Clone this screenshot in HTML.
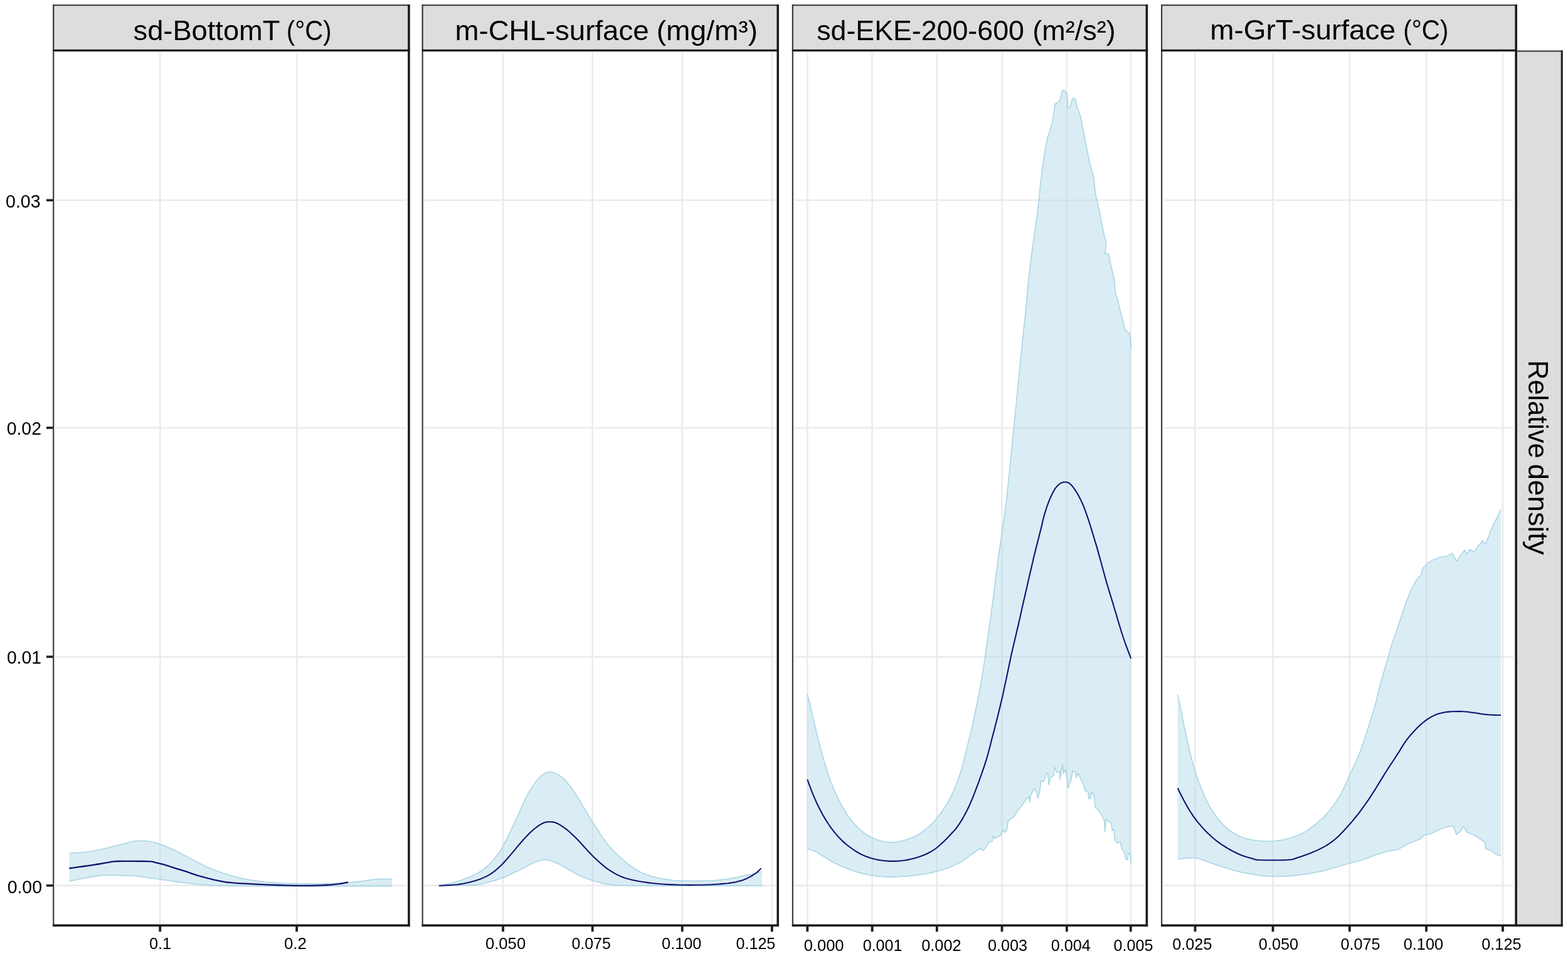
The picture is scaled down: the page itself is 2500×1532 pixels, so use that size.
<!DOCTYPE html>
<html lang="en"><head><meta charset="utf-8"><title>Relative density</title>
<style>html,body{margin:0;padding:0;background:#fff}body{width:2500px;height:1532px;overflow:hidden}svg{display:block}text{font-family:"Liberation Sans",sans-serif;fill:#000}</style>
</head><body>
<svg width="2500" height="1532" viewBox="0 0 2500 1532">
<rect width="2500" height="1532" fill="#fff"/>
<g>
<rect x="84.2" y="7.3" width="569.5" height="72.5" fill="#dddddd"/>
<rect x="253.9" y="84.4" width="2.6" height="1387.9" fill="#ebebeb"/>
<rect x="471.8" y="84.4" width="2.6" height="1387.9" fill="#ebebeb"/>
<rect x="88.2" y="317.9" width="559.5" height="2.6" fill="#ebebeb"/>
<rect x="88.2" y="680.7" width="559.5" height="2.6" fill="#ebebeb"/>
<rect x="88.2" y="1045.7" width="559.5" height="2.6" fill="#ebebeb"/>
<rect x="88.2" y="1410.4" width="559.5" height="2.6" fill="#ebebeb"/>
<polygon points="110.4,1360.3 115.3,1360.0 122.3,1359.6 130.1,1359.0 137.2,1358.3 143.2,1357.5 148.8,1356.6 154.4,1355.5 160.4,1354.2 167.0,1352.7 174.0,1351.0 180.8,1349.2 187.1,1347.6 192.7,1346.2 198.0,1344.9 202.7,1343.7 206.6,1342.7 209.2,1342.0 210.8,1341.4 212.4,1341.1 215.2,1340.8 219.9,1340.6 225.6,1340.5 231.7,1340.6 237.1,1341.0 241.8,1341.8 246.1,1342.9 250.1,1344.2 254.1,1345.5 257.8,1346.8 261.3,1348.1 264.8,1349.5 268.7,1351.1 273.0,1353.1 277.6,1355.2 282.3,1357.5 287.0,1359.8 291.4,1362.1 295.8,1364.5 300.3,1366.9 305.2,1369.5 310.6,1372.4 316.3,1375.5 322.3,1378.5 328.4,1381.4 334.9,1384.2 341.6,1386.8 348.2,1389.3 354.0,1391.4 358.6,1393.0 362.5,1394.2 366.1,1395.2 370.0,1396.3 374.4,1397.5 378.9,1398.7 383.5,1399.9 388.3,1400.9 393.4,1401.9 398.8,1402.8 404.1,1403.6 409.0,1404.3 413.2,1404.9 417.1,1405.4 420.8,1405.9 424.8,1406.3 429.3,1406.6 434.1,1406.9 438.8,1407.1 443.0,1407.4 445.6,1407.7 447.2,1407.9 449.7,1408.2 455.2,1408.4 465.2,1408.6 478.2,1408.8 492.0,1408.9 504.0,1409.0 513.9,1408.9 523.0,1408.8 531.0,1408.6 538.0,1408.3 543.4,1408.0 547.4,1407.6 551.0,1407.2 555.0,1406.8 559.8,1406.4 564.9,1406.0 569.9,1405.6 574.6,1405.1 578.9,1404.6 583.0,1404.0 586.9,1403.4 590.4,1402.9 593.2,1402.4 595.3,1402.0 597.8,1401.7 601.3,1401.4 606.9,1401.3 613.9,1401.3 620.5,1401.3 625.1,1401.3 625.1,1412.6 616.9,1412.6 605.0,1412.6 592.0,1412.6 580.0,1412.6 569.5,1412.6 559.4,1412.6 549.6,1412.6 540.0,1412.7 531.0,1412.7 522.6,1412.8 513.8,1412.9 504.0,1412.9 493.5,1412.9 482.6,1412.8 470.1,1412.8 455.0,1412.7 434.9,1412.6 411.2,1412.6 388.1,1412.5 370.0,1412.4 358.8,1412.3 352.0,1412.2 347.2,1412.0 341.8,1411.8 335.5,1411.5 329.4,1411.1 323.8,1410.6 318.6,1410.2 314.4,1409.8 311.0,1409.4 307.4,1409.0 302.8,1408.4 296.6,1407.6 289.3,1406.6 281.8,1405.6 274.8,1404.7 268.3,1403.8 262.0,1402.8 256.1,1402.0 250.5,1401.2 245.4,1400.4 240.7,1399.7 236.4,1399.1 232.2,1398.5 228.3,1397.9 224.7,1397.4 221.2,1396.9 217.6,1396.5 214.1,1396.3 210.6,1396.1 206.7,1396.0 201.8,1395.9 195.1,1395.7 187.2,1395.4 179.2,1395.2 172.5,1395.1 167.8,1395.2 164.3,1395.4 160.9,1395.7 156.7,1396.3 151.2,1397.1 144.9,1398.1 138.5,1399.3 132.4,1400.4 126.2,1401.5 119.9,1402.8 114.3,1403.9 110.4,1404.7" fill="#add8e6" fill-opacity="0.45" stroke="none"/>
<polyline points="110.4,1360.3 115.3,1360.0 122.3,1359.6 130.1,1359.0 137.2,1358.3 143.2,1357.5 148.8,1356.6 154.4,1355.5 160.4,1354.2 167.0,1352.7 174.0,1351.0 180.8,1349.2 187.1,1347.6 192.7,1346.2 198.0,1344.9 202.7,1343.7 206.6,1342.7 209.2,1342.0 210.8,1341.4 212.4,1341.1 215.2,1340.8 219.9,1340.6 225.6,1340.5 231.7,1340.6 237.1,1341.0 241.8,1341.8 246.1,1342.9 250.1,1344.2 254.1,1345.5 257.8,1346.8 261.3,1348.1 264.8,1349.5 268.7,1351.1 273.0,1353.1 277.6,1355.2 282.3,1357.5 287.0,1359.8 291.4,1362.1 295.8,1364.5 300.3,1366.9 305.2,1369.5 310.6,1372.4 316.3,1375.5 322.3,1378.5 328.4,1381.4 334.9,1384.2 341.6,1386.8 348.2,1389.3 354.0,1391.4 358.6,1393.0 362.5,1394.2 366.1,1395.2 370.0,1396.3 374.4,1397.5 378.9,1398.7 383.5,1399.9 388.3,1400.9 393.4,1401.9 398.8,1402.8 404.1,1403.6 409.0,1404.3 413.2,1404.9 417.1,1405.4 420.8,1405.9 424.8,1406.3 429.3,1406.6 434.1,1406.9 438.8,1407.1 443.0,1407.4 445.6,1407.7 447.2,1407.9 449.7,1408.2 455.2,1408.4 465.2,1408.6 478.2,1408.8 492.0,1408.9 504.0,1409.0 513.9,1408.9 523.0,1408.8 531.0,1408.6 538.0,1408.3 543.4,1408.0 547.4,1407.6 551.0,1407.2 555.0,1406.8 559.8,1406.4 564.9,1406.0 569.9,1405.6 574.6,1405.1 578.9,1404.6 583.0,1404.0 586.9,1403.4 590.4,1402.9 593.2,1402.4 595.3,1402.0 597.8,1401.7 601.3,1401.4 606.9,1401.3 613.9,1401.3 620.5,1401.3 625.1,1401.3" fill="none" stroke="#a9d5e5" stroke-width="1.6" stroke-linejoin="round"/>
<polyline points="110.4,1404.7 114.3,1403.9 119.9,1402.8 126.2,1401.5 132.4,1400.4 138.5,1399.3 144.9,1398.1 151.2,1397.1 156.7,1396.3 160.9,1395.7 164.3,1395.4 167.8,1395.2 172.5,1395.1 179.2,1395.2 187.2,1395.4 195.1,1395.7 201.8,1395.9 206.7,1396.0 210.6,1396.1 214.1,1396.3 217.6,1396.5 221.2,1396.9 224.7,1397.4 228.3,1397.9 232.2,1398.5 236.4,1399.1 240.7,1399.7 245.4,1400.4 250.5,1401.2 256.1,1402.0 262.0,1402.8 268.3,1403.8 274.8,1404.7 281.8,1405.6 289.3,1406.6 296.6,1407.6 302.8,1408.4 307.4,1409.0 311.0,1409.4 314.4,1409.8 318.6,1410.2 323.8,1410.6 329.4,1411.1 335.5,1411.5 341.8,1411.8 347.2,1412.0 352.0,1412.2 358.8,1412.3 370.0,1412.4 388.1,1412.5 411.2,1412.6 434.9,1412.6 455.0,1412.7 470.1,1412.8 482.6,1412.8 493.5,1412.9 504.0,1412.9 513.8,1412.9 522.6,1412.8 531.0,1412.7 540.0,1412.7 549.6,1412.6 559.4,1412.6 569.5,1412.6 580.0,1412.6 592.0,1412.6 605.0,1412.6 616.9,1412.6 625.1,1412.6" fill="none" stroke="#a9d5e5" stroke-width="1.6" stroke-linejoin="round"/>
<polyline points="110.4,1384.3 112.1,1384.0 114.5,1383.7 117.3,1383.3 120.2,1382.8 123.3,1382.4 126.7,1381.9 130.2,1381.5 133.6,1381.0 136.9,1380.5 140.3,1380.1 143.7,1379.6 147.0,1379.1 150.4,1378.6 153.8,1378.0 157.1,1377.5 160.4,1377.0 163.5,1376.4 166.4,1375.9 169.3,1375.4 172.5,1374.9 175.1,1374.4 177.4,1373.8 180.9,1373.3 187.1,1373.0 198.0,1372.9 212.3,1372.9 226.5,1373.0 237.1,1373.2 242.6,1373.6 245.1,1374.1 246.3,1374.6 248.0,1375.1 250.6,1375.7 253.1,1376.2 255.5,1376.8 257.8,1377.3 260.0,1377.9 262.0,1378.5 264.0,1379.1 266.3,1379.8 268.8,1380.6 271.5,1381.5 274.3,1382.4 277.2,1383.4 280.2,1384.3 283.4,1385.3 286.5,1386.2 289.4,1387.1 292.0,1387.9 294.5,1388.7 296.8,1389.4 299.2,1390.2 301.6,1391.1 303.9,1391.9 306.3,1392.8 308.9,1393.7 311.8,1394.6 314.8,1395.6 318.0,1396.5 321.1,1397.4 324.2,1398.2 327.2,1399.0 330.3,1399.8 333.3,1400.5 336.4,1401.3 339.5,1402.1 342.5,1402.8 345.4,1403.4 348.0,1404.0 350.4,1404.5 352.7,1404.9 355.2,1405.4 357.5,1405.8 359.6,1406.2 362.2,1406.5 366.0,1406.9 371.2,1407.4 377.3,1407.8 384.3,1408.3 392.0,1408.7 400.4,1409.2 409.5,1409.7 419.4,1410.2 430.0,1410.6 441.9,1411.0 454.9,1411.4 467.9,1411.8 480.0,1411.9 491.2,1411.9 501.9,1411.7 511.6,1411.4 520.0,1411.0 526.5,1410.6 531.6,1410.2 535.8,1409.7 540.0,1409.2 544.5,1408.5 548.8,1407.7 552.4,1407.0 555.0,1406.5" fill="none" stroke="#10106e" stroke-width="2.3" stroke-linejoin="round"/>
<rect x="84.2" y="7.3" width="569.5" height="2" fill="#333333"/>
<rect x="84.2" y="7.3" width="2.1" height="1469.8" fill="#333333"/>
<rect x="650.1" y="7.3" width="3.6" height="1469.8" fill="#1c1c1c"/>
<rect x="84.2" y="78.8" width="569.5" height="3.3" fill="#1c1c1c"/>
<rect x="84.2" y="1473.5" width="569.5" height="3.6" fill="#1c1c1c"/>
<rect x="253.3" y="1476.6" width="3.8" height="8.6" fill="#1c1c1c"/>
<rect x="471.2" y="1476.6" width="3.8" height="8.6" fill="#1c1c1c"/>
</g>
<g>
<rect x="672.6" y="7.3" width="569.4" height="72.5" fill="#dddddd"/>
<rect x="800.7" y="84.4" width="2.6" height="1387.9" fill="#ebebeb"/>
<rect x="943.4" y="84.4" width="2.6" height="1387.9" fill="#ebebeb"/>
<rect x="1086.4" y="84.4" width="2.6" height="1387.9" fill="#ebebeb"/>
<rect x="1229.5" y="84.4" width="2.6" height="1387.9" fill="#ebebeb"/>
<rect x="676.6" y="317.9" width="559.4" height="2.6" fill="#ebebeb"/>
<rect x="676.6" y="680.7" width="559.4" height="2.6" fill="#ebebeb"/>
<rect x="676.6" y="1045.7" width="559.4" height="2.6" fill="#ebebeb"/>
<rect x="676.6" y="1410.4" width="559.4" height="2.6" fill="#ebebeb"/>
<polygon points="699.8,1412.0 704.0,1411.1 710.1,1409.9 716.7,1408.5 722.6,1407.1 727.5,1405.7 732.0,1404.3 736.4,1402.8 740.9,1401.1 745.5,1399.3 750.2,1397.4 754.8,1395.4 759.2,1393.2 763.2,1390.9 767.0,1388.5 770.7,1385.8 774.4,1382.8 778.3,1379.3 782.2,1375.5 786.0,1371.5 789.6,1367.3 792.9,1363.1 795.9,1358.7 798.8,1354.1 801.8,1349.0 804.8,1343.5 807.9,1337.6 810.9,1331.4 814.0,1325.1 817.0,1318.7 820.1,1312.1 823.1,1305.4 826.2,1298.8 829.3,1291.9 832.5,1284.8 835.6,1278.0 838.4,1272.1 840.8,1267.4 842.9,1263.4 845.1,1259.8 847.5,1256.1 850.4,1251.8 853.6,1247.4 856.8,1243.2 859.7,1239.8 862.2,1237.2 864.5,1235.3 866.7,1233.9 868.8,1232.7 870.8,1231.7 872.6,1231.1 874.4,1230.7 876.4,1230.6 878.6,1230.7 880.9,1231.1 883.3,1231.8 885.6,1232.6 887.8,1233.7 890.1,1234.9 892.3,1236.3 894.7,1238.1 897.2,1240.3 899.9,1242.8 902.6,1245.6 905.4,1248.8 908.3,1252.5 911.4,1256.6 914.5,1261.0 917.6,1265.5 920.6,1270.2 923.7,1275.2 926.7,1280.3 929.7,1285.4 932.8,1290.7 936.1,1296.2 939.1,1301.5 941.9,1306.1 944.2,1309.6 946.1,1312.3 948.0,1314.9 950.0,1317.9 952.1,1321.3 954.3,1324.8 956.6,1328.6 959.1,1332.4 961.9,1336.5 964.9,1340.7 968.1,1344.9 971.3,1348.9 974.6,1352.7 978.0,1356.2 981.4,1359.7 985.0,1363.1 988.7,1366.6 992.6,1370.1 996.4,1373.4 1000.3,1376.6 1004.1,1379.5 1007.9,1382.3 1011.7,1384.9 1015.5,1387.2 1019.3,1389.3 1023.1,1391.1 1026.9,1392.7 1030.7,1394.2 1034.4,1395.5 1038.0,1396.7 1041.8,1397.7 1045.9,1398.7 1050.5,1399.7 1055.4,1400.7 1060.5,1401.6 1065.7,1402.3 1070.4,1403.0 1075.0,1403.5 1080.2,1403.9 1087.1,1404.2 1096.7,1404.3 1108.1,1404.4 1119.7,1404.3 1129.7,1404.1 1137.6,1403.7 1144.4,1403.1 1150.3,1402.4 1155.6,1401.8 1160.2,1401.2 1163.9,1400.6 1167.3,1400.0 1170.8,1399.4 1174.6,1398.6 1178.4,1397.7 1182.2,1396.8 1186.0,1396.0 1189.9,1395.2 1193.7,1394.6 1197.6,1393.9 1201.3,1393.1 1205.2,1392.2 1209.1,1391.2 1212.6,1390.3 1215.0,1389.6 1215.0,1412.3 1203.9,1412.3 1188.1,1412.3 1169.5,1412.3 1150.0,1412.3 1128.3,1412.3 1104.1,1412.3 1080.3,1412.3 1060.0,1412.3 1044.0,1412.2 1030.6,1412.2 1019.4,1412.1 1010.0,1412.0 1003.1,1412.0 998.8,1412.0 995.3,1411.9 991.1,1411.7 985.8,1411.4 980.2,1411.1 974.8,1410.6 969.8,1410.0 965.5,1409.3 961.6,1408.4 957.9,1407.4 954.1,1406.4 950.3,1405.4 946.5,1404.3 942.7,1403.1 938.9,1401.8 935.1,1400.4 931.3,1398.9 927.5,1397.3 923.7,1395.6 919.9,1393.7 916.0,1391.6 912.2,1389.4 908.4,1387.2 904.6,1385.0 900.8,1382.7 897.0,1380.5 893.2,1378.4 889.2,1376.6 885.1,1374.8 881.3,1373.3 878.0,1372.2 875.6,1371.4 873.7,1371.0 872.1,1370.8 870.4,1370.7 868.7,1370.6 867.0,1370.6 865.2,1370.8 862.7,1371.4 859.4,1372.4 855.6,1373.7 851.5,1375.3 847.5,1377.0 843.7,1378.9 839.9,1381.1 836.1,1383.3 832.3,1385.3 828.5,1387.1 824.7,1388.9 820.9,1390.6 817.1,1392.3 813.5,1394.0 809.9,1395.8 806.2,1397.5 801.8,1399.2 796.6,1401.1 790.9,1402.9 784.9,1404.7 779.0,1406.3 774.1,1407.7 769.6,1409.0 764.2,1410.0 756.1,1410.9 743.1,1411.4 726.5,1411.7 710.7,1411.9 699.8,1412.0" fill="#add8e6" fill-opacity="0.45" stroke="none"/>
<polyline points="699.8,1412.0 704.0,1411.1 710.1,1409.9 716.7,1408.5 722.6,1407.1 727.5,1405.7 732.0,1404.3 736.4,1402.8 740.9,1401.1 745.5,1399.3 750.2,1397.4 754.8,1395.4 759.2,1393.2 763.2,1390.9 767.0,1388.5 770.7,1385.8 774.4,1382.8 778.3,1379.3 782.2,1375.5 786.0,1371.5 789.6,1367.3 792.9,1363.1 795.9,1358.7 798.8,1354.1 801.8,1349.0 804.8,1343.5 807.9,1337.6 810.9,1331.4 814.0,1325.1 817.0,1318.7 820.1,1312.1 823.1,1305.4 826.2,1298.8 829.3,1291.9 832.5,1284.8 835.6,1278.0 838.4,1272.1 840.8,1267.4 842.9,1263.4 845.1,1259.8 847.5,1256.1 850.4,1251.8 853.6,1247.4 856.8,1243.2 859.7,1239.8 862.2,1237.2 864.5,1235.3 866.7,1233.9 868.8,1232.7 870.8,1231.7 872.6,1231.1 874.4,1230.7 876.4,1230.6 878.6,1230.7 880.9,1231.1 883.3,1231.8 885.6,1232.6 887.8,1233.7 890.1,1234.9 892.3,1236.3 894.7,1238.1 897.2,1240.3 899.9,1242.8 902.6,1245.6 905.4,1248.8 908.3,1252.5 911.4,1256.6 914.5,1261.0 917.6,1265.5 920.6,1270.2 923.7,1275.2 926.7,1280.3 929.7,1285.4 932.8,1290.7 936.1,1296.2 939.1,1301.5 941.9,1306.1 944.2,1309.6 946.1,1312.3 948.0,1314.9 950.0,1317.9 952.1,1321.3 954.3,1324.8 956.6,1328.6 959.1,1332.4 961.9,1336.5 964.9,1340.7 968.1,1344.9 971.3,1348.9 974.6,1352.7 978.0,1356.2 981.4,1359.7 985.0,1363.1 988.7,1366.6 992.6,1370.1 996.4,1373.4 1000.3,1376.6 1004.1,1379.5 1007.9,1382.3 1011.7,1384.9 1015.5,1387.2 1019.3,1389.3 1023.1,1391.1 1026.9,1392.7 1030.7,1394.2 1034.4,1395.5 1038.0,1396.7 1041.8,1397.7 1045.9,1398.7 1050.5,1399.7 1055.4,1400.7 1060.5,1401.6 1065.7,1402.3 1070.4,1403.0 1075.0,1403.5 1080.2,1403.9 1087.1,1404.2 1096.7,1404.3 1108.1,1404.4 1119.7,1404.3 1129.7,1404.1 1137.6,1403.7 1144.4,1403.1 1150.3,1402.4 1155.6,1401.8 1160.2,1401.2 1163.9,1400.6 1167.3,1400.0 1170.8,1399.4 1174.6,1398.6 1178.4,1397.7 1182.2,1396.8 1186.0,1396.0 1189.9,1395.2 1193.7,1394.6 1197.6,1393.9 1201.3,1393.1 1205.2,1392.2 1209.1,1391.2 1212.6,1390.3 1215.0,1389.6" fill="none" stroke="#a9d5e5" stroke-width="1.6" stroke-linejoin="round"/>
<polyline points="699.8,1412.0 710.7,1411.9 726.5,1411.7 743.1,1411.4 756.1,1410.9 764.2,1410.0 769.6,1409.0 774.1,1407.7 779.0,1406.3 784.9,1404.7 790.9,1402.9 796.6,1401.1 801.8,1399.2 806.2,1397.5 809.9,1395.8 813.5,1394.0 817.1,1392.3 820.9,1390.6 824.7,1388.9 828.5,1387.1 832.3,1385.3 836.1,1383.3 839.9,1381.1 843.7,1378.9 847.5,1377.0 851.5,1375.3 855.6,1373.7 859.4,1372.4 862.7,1371.4 865.2,1370.8 867.0,1370.6 868.7,1370.6 870.4,1370.7 872.1,1370.8 873.7,1371.0 875.6,1371.4 878.0,1372.2 881.3,1373.3 885.1,1374.8 889.2,1376.6 893.2,1378.4 897.0,1380.5 900.8,1382.7 904.6,1385.0 908.4,1387.2 912.2,1389.4 916.0,1391.6 919.9,1393.7 923.7,1395.6 927.5,1397.3 931.3,1398.9 935.1,1400.4 938.9,1401.8 942.7,1403.1 946.5,1404.3 950.3,1405.4 954.1,1406.4 957.9,1407.4 961.6,1408.4 965.5,1409.3 969.8,1410.0 974.8,1410.6 980.2,1411.1 985.8,1411.4 991.1,1411.7 995.3,1411.9 998.8,1412.0 1003.1,1412.0 1010.0,1412.0 1019.4,1412.1 1030.6,1412.2 1044.0,1412.2 1060.0,1412.3 1080.3,1412.3 1104.1,1412.3 1128.3,1412.3 1150.0,1412.3 1169.5,1412.3 1188.1,1412.3 1203.9,1412.3 1215.0,1412.3" fill="none" stroke="#a9d5e5" stroke-width="1.6" stroke-linejoin="round"/>
<polyline points="699.8,1412.0 705.2,1411.7 713.0,1411.3 721.4,1410.8 728.7,1410.2 734.3,1409.4 739.3,1408.5 743.9,1407.5 748.5,1406.4 753.2,1405.2 757.8,1404.0 762.4,1402.6 766.8,1400.9 771.1,1399.1 775.4,1397.1 779.5,1394.9 783.6,1392.4 787.5,1389.6 791.3,1386.6 795.0,1383.2 798.8,1379.7 802.6,1375.8 806.4,1371.6 810.2,1367.3 814.0,1362.9 817.8,1358.4 821.6,1353.8 825.4,1349.2 829.2,1344.8 833.1,1340.3 837.0,1335.9 840.9,1331.8 844.5,1328.1 847.8,1325.0 850.8,1322.3 853.7,1320.0 856.6,1317.9 859.4,1315.9 862.1,1314.2 864.8,1312.7 867.3,1311.5 869.7,1310.8 871.9,1310.4 874.2,1310.2 876.4,1310.1 878.7,1310.2 880.9,1310.4 883.2,1310.8 885.6,1311.5 888.1,1312.5 890.7,1313.8 893.4,1315.4 896.2,1317.2 899.1,1319.1 902.0,1321.3 905.1,1323.7 908.4,1326.5 912.0,1329.9 915.9,1333.6 919.8,1337.6 923.7,1341.6 927.6,1345.8 931.6,1350.2 935.4,1354.4 938.9,1358.2 941.9,1361.2 944.4,1363.9 947.0,1366.4 950.0,1369.2 953.5,1372.4 957.3,1375.9 961.3,1379.4 965.2,1382.6 969.0,1385.4 972.9,1388.0 976.7,1390.4 980.5,1392.6 984.3,1394.6 988.1,1396.4 991.9,1398.0 995.7,1399.4 999.5,1400.6 1003.2,1401.6 1007.0,1402.5 1010.9,1403.4 1015.0,1404.2 1019.3,1405.0 1023.6,1405.7 1027.7,1406.3 1031.4,1406.9 1034.8,1407.4 1038.5,1407.8 1042.9,1408.3 1048.2,1408.8 1054.0,1409.3 1060.4,1409.7 1067.3,1410.1 1074.8,1410.4 1083.0,1410.7 1091.5,1410.8 1100.0,1410.9 1108.9,1410.8 1118.2,1410.7 1127.1,1410.5 1135.0,1410.2 1141.7,1409.8 1147.6,1409.4 1152.7,1408.9 1157.0,1408.5 1160.2,1408.2 1162.4,1407.9 1164.2,1407.6 1166.2,1407.3 1168.4,1407.0 1170.6,1406.6 1172.9,1406.2 1175.4,1405.6 1178.3,1404.8 1181.4,1403.9 1184.6,1402.9 1187.6,1401.8 1190.4,1400.6 1193.1,1399.3 1195.7,1397.9 1198.2,1396.5 1200.7,1394.9 1203.1,1393.4 1205.4,1391.8 1207.4,1390.2 1209.3,1388.6 1211.0,1386.9 1212.4,1385.4 1213.4,1384.3" fill="none" stroke="#10106e" stroke-width="2.1" stroke-linejoin="round"/>
<rect x="672.6" y="7.3" width="569.4" height="2" fill="#333333"/>
<rect x="672.6" y="7.3" width="2.1" height="1469.8" fill="#333333"/>
<rect x="1238.4" y="7.3" width="3.6" height="1469.8" fill="#1c1c1c"/>
<rect x="672.6" y="78.8" width="569.4" height="3.3" fill="#1c1c1c"/>
<rect x="672.6" y="1473.5" width="569.4" height="3.6" fill="#1c1c1c"/>
<rect x="800.1" y="1476.6" width="3.8" height="8.6" fill="#1c1c1c"/>
<rect x="942.8" y="1476.6" width="3.8" height="8.6" fill="#1c1c1c"/>
<rect x="1085.8" y="1476.6" width="3.8" height="8.6" fill="#1c1c1c"/>
<rect x="1228.9" y="1476.6" width="3.8" height="8.6" fill="#1c1c1c"/>
</g>
<g>
<rect x="1262.8" y="7.3" width="567.4" height="72.5" fill="#dddddd"/>
<rect x="1286.0" y="84.4" width="2.6" height="1387.9" fill="#ebebeb"/>
<rect x="1389.3" y="84.4" width="2.6" height="1387.9" fill="#ebebeb"/>
<rect x="1492.5" y="84.4" width="2.6" height="1387.9" fill="#ebebeb"/>
<rect x="1596.2" y="84.4" width="2.6" height="1387.9" fill="#ebebeb"/>
<rect x="1699.6" y="84.4" width="2.6" height="1387.9" fill="#ebebeb"/>
<rect x="1801.5" y="84.4" width="2.6" height="1387.9" fill="#ebebeb"/>
<rect x="1266.8" y="317.9" width="557.4" height="2.6" fill="#ebebeb"/>
<rect x="1266.8" y="680.7" width="557.4" height="2.6" fill="#ebebeb"/>
<rect x="1266.8" y="1045.7" width="557.4" height="2.6" fill="#ebebeb"/>
<rect x="1266.8" y="1410.4" width="557.4" height="2.6" fill="#ebebeb"/>
<polygon points="1287.2,1106.6 1288.1,1110.3 1289.5,1115.5 1291.0,1121.7 1292.7,1128.4 1294.4,1135.6 1296.2,1143.6 1298.2,1152.1 1300.3,1161.0 1302.6,1170.4 1305.0,1180.4 1307.6,1190.7 1310.3,1200.8 1313.3,1211.1 1316.4,1221.6 1319.7,1231.8 1322.9,1241.2 1326.1,1249.7 1329.2,1257.5 1332.4,1264.7 1335.5,1271.5 1338.7,1277.8 1341.8,1283.7 1344.9,1289.1 1348.1,1294.2 1351.2,1299.1 1354.4,1303.6 1357.5,1307.7 1360.7,1311.6 1363.9,1315.2 1367.0,1318.5 1370.2,1321.5 1373.3,1324.3 1376.4,1326.8 1379.4,1329.1 1382.5,1331.1 1385.8,1333.0 1389.4,1334.9 1393.2,1336.6 1397.1,1338.2 1400.9,1339.5 1404.7,1340.6 1408.5,1341.5 1412.2,1342.2 1416.0,1342.6 1419.8,1342.8 1423.5,1342.7 1427.3,1342.4 1431.1,1341.9 1434.9,1341.3 1438.6,1340.5 1442.4,1339.4 1446.2,1338.3 1450.0,1337.0 1453.8,1335.5 1457.5,1333.8 1461.3,1331.9 1465.1,1329.7 1468.8,1327.4 1472.6,1324.7 1476.4,1321.7 1480.2,1318.5 1484.0,1314.9 1487.7,1311.0 1491.5,1306.8 1495.3,1302.2 1499.2,1297.2 1503.0,1292.0 1506.6,1286.6 1509.9,1281.3 1513.1,1276.0 1516.1,1270.2 1519.2,1263.7 1522.5,1255.8 1525.9,1247.1 1529.1,1238.3 1531.8,1230.3 1533.8,1223.7 1535.3,1217.8 1536.7,1212.1 1538.1,1206.2 1539.7,1199.9 1541.4,1193.4 1543.0,1186.9 1544.7,1180.2 1546.4,1173.4 1548.0,1166.4 1549.7,1159.3 1551.3,1152.3 1552.8,1145.4 1554.3,1138.5 1555.7,1131.7 1557.1,1125.0 1558.4,1118.6 1559.6,1112.3 1560.8,1106.2 1562.0,1100.0 1563.1,1093.7 1564.3,1087.5 1565.3,1081.3 1566.4,1074.9 1567.5,1068.4 1568.5,1061.7 1569.5,1055.0 1570.5,1048.4 1571.4,1042.0 1572.3,1035.6 1573.1,1029.4 1574.0,1023.2 1574.8,1017.5 1575.5,1012.2 1576.4,1006.3 1577.4,998.9 1578.8,988.8 1580.4,976.9 1582.0,965.0 1583.4,954.8 1584.4,947.1 1585.1,941.0 1585.8,935.4 1586.6,929.1 1587.5,921.9 1588.4,914.4 1589.4,906.9 1590.3,899.6 1591.2,892.7 1592.2,885.8 1593.1,879.2 1594.0,873.0 1594.8,867.8 1595.4,863.4 1596.2,858.2 1597.3,850.7 1598.8,839.9 1600.7,826.8 1602.6,812.7 1604.4,799.0 1605.9,785.8 1607.4,772.4 1608.7,759.0 1610.1,745.6 1611.5,732.2 1612.8,718.7 1614.1,705.3 1615.4,692.0 1616.7,678.7 1618.1,665.5 1619.4,652.2 1620.7,639.0 1622.0,625.7 1623.3,612.3 1624.7,599.0 1626.0,585.7 1627.3,572.5 1628.7,559.3 1630.0,546.4 1631.3,533.8 1632.6,521.7 1633.9,509.8 1635.1,498.5 1636.2,488.0 1637.1,478.7 1637.8,470.3 1638.4,462.3 1639.2,453.9 1640.1,445.0 1641.1,436.1 1642.1,426.9 1643.2,417.6 1644.5,407.7 1645.9,397.5 1647.2,387.5 1648.5,378.4 1649.6,370.9 1650.6,364.3 1651.5,358.0 1652.5,351.1 1653.5,343.3 1654.5,335.0 1655.5,326.8 1656.4,319.0 1657.1,312.0 1657.8,305.4 1658.4,298.8 1659.1,291.8 1660.0,284.3 1661.0,276.3 1662.0,268.4 1663.0,260.9 1664.1,253.5 1665.2,246.1 1666.3,239.6 1667.0,235.1 1671.0,216.6 1675.0,206.0 1678.9,190.1 1682.1,166.2 1689.5,160.9 1694.3,143.7 1698.0,145.0 1701.5,150.3 1702.8,172.8 1706.8,168.9 1710.2,156.2 1714.7,158.3 1717.4,171.5 1722.6,184.8 1726.6,206.0 1731.9,232.5 1737.2,258.9 1743.8,282.8 1746.5,309.3 1750.5,325.2 1755.8,351.7 1761.1,378.1 1763.7,384.8 1761.9,404.6 1767.7,404.6 1771.7,425.8 1777.0,447.0 1778.3,466.9 1782.3,480.0 1787.5,501.2 1794.2,526.4 1800.8,531.7 1802.9,543.6 1803.4,556.8 1803.4,1377.0 1802.3,1362.1 1798.9,1359.6 1798.1,1370.4 1794.8,1369.6 1793.2,1360.4 1788.2,1352.2 1786.5,1342.2 1781.6,1343.9 1777.4,1338.9 1775.8,1322.4 1773.3,1324.0 1771.6,1312.4 1768.3,1310.8 1763.4,1305.8 1761.7,1325.7 1760.9,1309.1 1756.7,1299.2 1751.8,1292.6 1746.0,1285.9 1744.3,1267.7 1740.2,1261.9 1739.3,1272.7 1736.0,1273.5 1735.2,1262.8 1730.2,1261.1 1727.8,1251.2 1723.6,1242.9 1718.7,1233.0 1716.2,1239.6 1714.5,1231.3 1710.4,1228.8 1707.1,1246.2 1702.9,1256.2 1701.3,1241.3 1698.5,1226.4 1695.5,1233.0 1694.2,1218.9 1692.2,1229.7 1690.2,1242.9 1689.7,1229.7 1684.7,1231.3 1681.4,1223.0 1679.8,1236.3 1674.8,1239.6 1672.3,1251.2 1670.6,1232.1 1668.2,1233.8 1664.0,1246.2 1659.9,1244.6 1657.4,1262.8 1654.9,1272.7 1652.4,1261.9 1649.1,1257.0 1643.3,1267.7 1641.7,1279.3 1640.9,1270.2 1635.9,1274.4 1629.3,1284.3 1622.6,1292.6 1616.0,1302.5 1610.2,1305.8 1606.9,1310.8 1605.3,1324.0 1601.1,1327.3 1599.5,1322.4 1594.5,1332.3 1585.4,1336.4 1583.7,1332.3 1582.1,1340.6 1576.3,1343.1 1573.0,1348.9 1568.0,1355.5 1561.4,1353.0 1549.8,1361.5 1547.5,1363.2 1544.2,1365.8 1540.4,1368.5 1536.9,1370.9 1533.7,1372.9 1530.4,1374.7 1527.2,1376.4 1524.0,1378.0 1521.2,1379.4 1518.6,1380.7 1515.7,1382.0 1511.7,1383.4 1506.3,1385.2 1499.9,1387.2 1493.1,1389.2 1486.5,1390.9 1480.2,1392.2 1473.9,1393.2 1467.6,1394.1 1461.3,1394.9 1455.0,1395.7 1448.8,1396.4 1442.5,1396.9 1436.2,1397.3 1429.9,1397.7 1423.6,1397.9 1417.3,1397.9 1411.0,1397.7 1404.6,1397.3 1398.1,1396.6 1391.7,1395.8 1385.8,1394.8 1380.4,1393.7 1375.3,1392.5 1370.4,1391.2 1365.7,1389.8 1361.1,1388.4 1356.7,1386.9 1352.4,1385.3 1348.1,1383.6 1343.6,1381.8 1339.1,1379.8 1334.7,1377.9 1330.5,1375.8 1326.5,1373.7 1322.8,1371.5 1319.1,1369.2 1315.4,1366.9 1311.6,1364.5 1307.7,1362.0 1303.9,1359.5 1300.3,1357.5 1296.6,1356.0 1292.8,1354.8 1289.5,1353.9 1287.2,1353.3" fill="#add8e6" fill-opacity="0.45" stroke="none"/>
<polyline points="1287.2,1106.6 1288.1,1110.3 1289.5,1115.5 1291.0,1121.7 1292.7,1128.4 1294.4,1135.6 1296.2,1143.6 1298.2,1152.1 1300.3,1161.0 1302.6,1170.4 1305.0,1180.4 1307.6,1190.7 1310.3,1200.8 1313.3,1211.1 1316.4,1221.6 1319.7,1231.8 1322.9,1241.2 1326.1,1249.7 1329.2,1257.5 1332.4,1264.7 1335.5,1271.5 1338.7,1277.8 1341.8,1283.7 1344.9,1289.1 1348.1,1294.2 1351.2,1299.1 1354.4,1303.6 1357.5,1307.7 1360.7,1311.6 1363.9,1315.2 1367.0,1318.5 1370.2,1321.5 1373.3,1324.3 1376.4,1326.8 1379.4,1329.1 1382.5,1331.1 1385.8,1333.0 1389.4,1334.9 1393.2,1336.6 1397.1,1338.2 1400.9,1339.5 1404.7,1340.6 1408.5,1341.5 1412.2,1342.2 1416.0,1342.6 1419.8,1342.8 1423.5,1342.7 1427.3,1342.4 1431.1,1341.9 1434.9,1341.3 1438.6,1340.5 1442.4,1339.4 1446.2,1338.3 1450.0,1337.0 1453.8,1335.5 1457.5,1333.8 1461.3,1331.9 1465.1,1329.7 1468.8,1327.4 1472.6,1324.7 1476.4,1321.7 1480.2,1318.5 1484.0,1314.9 1487.7,1311.0 1491.5,1306.8 1495.3,1302.2 1499.2,1297.2 1503.0,1292.0 1506.6,1286.6 1509.9,1281.3 1513.1,1276.0 1516.1,1270.2 1519.2,1263.7 1522.5,1255.8 1525.9,1247.1 1529.1,1238.3 1531.8,1230.3 1533.8,1223.7 1535.3,1217.8 1536.7,1212.1 1538.1,1206.2 1539.7,1199.9 1541.4,1193.4 1543.0,1186.9 1544.7,1180.2 1546.4,1173.4 1548.0,1166.4 1549.7,1159.3 1551.3,1152.3 1552.8,1145.4 1554.3,1138.5 1555.7,1131.7 1557.1,1125.0 1558.4,1118.6 1559.6,1112.3 1560.8,1106.2 1562.0,1100.0 1563.1,1093.7 1564.3,1087.5 1565.3,1081.3 1566.4,1074.9 1567.5,1068.4 1568.5,1061.7 1569.5,1055.0 1570.5,1048.4 1571.4,1042.0 1572.3,1035.6 1573.1,1029.4 1574.0,1023.2 1574.8,1017.5 1575.5,1012.2 1576.4,1006.3 1577.4,998.9 1578.8,988.8 1580.4,976.9 1582.0,965.0 1583.4,954.8 1584.4,947.1 1585.1,941.0 1585.8,935.4 1586.6,929.1 1587.5,921.9 1588.4,914.4 1589.4,906.9 1590.3,899.6 1591.2,892.7 1592.2,885.8 1593.1,879.2 1594.0,873.0 1594.8,867.8 1595.4,863.4 1596.2,858.2 1597.3,850.7 1598.8,839.9 1600.7,826.8 1602.6,812.7 1604.4,799.0 1605.9,785.8 1607.4,772.4 1608.7,759.0 1610.1,745.6 1611.5,732.2 1612.8,718.7 1614.1,705.3 1615.4,692.0 1616.7,678.7 1618.1,665.5 1619.4,652.2 1620.7,639.0 1622.0,625.7 1623.3,612.3 1624.7,599.0 1626.0,585.7 1627.3,572.5 1628.7,559.3 1630.0,546.4 1631.3,533.8 1632.6,521.7 1633.9,509.8 1635.1,498.5 1636.2,488.0 1637.1,478.7 1637.8,470.3 1638.4,462.3 1639.2,453.9 1640.1,445.0 1641.1,436.1 1642.1,426.9 1643.2,417.6 1644.5,407.7 1645.9,397.5 1647.2,387.5 1648.5,378.4 1649.6,370.9 1650.6,364.3 1651.5,358.0 1652.5,351.1 1653.5,343.3 1654.5,335.0 1655.5,326.8 1656.4,319.0 1657.1,312.0 1657.8,305.4 1658.4,298.8 1659.1,291.8 1660.0,284.3 1661.0,276.3 1662.0,268.4 1663.0,260.9 1664.1,253.5 1665.2,246.1 1666.3,239.6 1667.0,235.1 1671.0,216.6 1675.0,206.0 1678.9,190.1 1682.1,166.2 1689.5,160.9 1694.3,143.7 1698.0,145.0 1701.5,150.3 1702.8,172.8 1706.8,168.9 1710.2,156.2 1714.7,158.3 1717.4,171.5 1722.6,184.8 1726.6,206.0 1731.9,232.5 1737.2,258.9 1743.8,282.8 1746.5,309.3 1750.5,325.2 1755.8,351.7 1761.1,378.1 1763.7,384.8 1761.9,404.6 1767.7,404.6 1771.7,425.8 1777.0,447.0 1778.3,466.9 1782.3,480.0 1787.5,501.2 1794.2,526.4 1800.8,531.7 1802.9,543.6 1803.4,556.8" fill="none" stroke="#a9d5e5" stroke-width="1.6" stroke-linejoin="round"/>
<polyline points="1287.2,1353.3 1289.5,1353.9 1292.8,1354.8 1296.6,1356.0 1300.3,1357.5 1303.9,1359.5 1307.7,1362.0 1311.6,1364.5 1315.4,1366.9 1319.1,1369.2 1322.8,1371.5 1326.5,1373.7 1330.5,1375.8 1334.7,1377.9 1339.1,1379.8 1343.6,1381.8 1348.1,1383.6 1352.4,1385.3 1356.7,1386.9 1361.1,1388.4 1365.7,1389.8 1370.4,1391.2 1375.3,1392.5 1380.4,1393.7 1385.8,1394.8 1391.7,1395.8 1398.1,1396.6 1404.6,1397.3 1411.0,1397.7 1417.3,1397.9 1423.6,1397.9 1429.9,1397.7 1436.2,1397.3 1442.5,1396.9 1448.8,1396.4 1455.0,1395.7 1461.3,1394.9 1467.6,1394.1 1473.9,1393.2 1480.2,1392.2 1486.5,1390.9 1493.1,1389.2 1499.9,1387.2 1506.3,1385.2 1511.7,1383.4 1515.7,1382.0 1518.6,1380.7 1521.2,1379.4 1524.0,1378.0 1527.2,1376.4 1530.4,1374.7 1533.7,1372.9 1536.9,1370.9 1540.4,1368.5 1544.2,1365.8 1547.5,1363.2 1549.8,1361.5 1561.4,1353.0 1568.0,1355.5 1573.0,1348.9 1576.3,1343.1 1582.1,1340.6 1583.7,1332.3 1585.4,1336.4 1594.5,1332.3 1599.5,1322.4 1601.1,1327.3 1605.3,1324.0 1606.9,1310.8 1610.2,1305.8 1616.0,1302.5 1622.6,1292.6 1629.3,1284.3 1635.9,1274.4 1640.9,1270.2 1641.7,1279.3 1643.3,1267.7 1649.1,1257.0 1652.4,1261.9 1654.9,1272.7 1657.4,1262.8 1659.9,1244.6 1664.0,1246.2 1668.2,1233.8 1670.6,1232.1 1672.3,1251.2 1674.8,1239.6 1679.8,1236.3 1681.4,1223.0 1684.7,1231.3 1689.7,1229.7 1690.2,1242.9 1692.2,1229.7 1694.2,1218.9 1695.5,1233.0 1698.5,1226.4 1701.3,1241.3 1702.9,1256.2 1707.1,1246.2 1710.4,1228.8 1714.5,1231.3 1716.2,1239.6 1718.7,1233.0 1723.6,1242.9 1727.8,1251.2 1730.2,1261.1 1735.2,1262.8 1736.0,1273.5 1739.3,1272.7 1740.2,1261.9 1744.3,1267.7 1746.0,1285.9 1751.8,1292.6 1756.7,1299.2 1760.9,1309.1 1761.7,1325.7 1763.4,1305.8 1768.3,1310.8 1771.6,1312.4 1773.3,1324.0 1775.8,1322.4 1777.4,1338.9 1781.6,1343.9 1786.5,1342.2 1788.2,1352.2 1793.2,1360.4 1794.8,1369.6 1798.1,1370.4 1798.9,1359.6 1802.3,1362.1 1803.4,1377.0" fill="none" stroke="#a9d5e5" stroke-width="1.6" stroke-linejoin="round"/>
<polyline points="1287.2,1242.5 1288.6,1246.3 1290.6,1251.8 1292.9,1257.9 1295.2,1263.8 1297.5,1269.4 1300.0,1275.1 1302.5,1280.8 1305.3,1286.5 1308.3,1292.3 1311.4,1298.2 1314.7,1303.9 1317.9,1309.2 1321.1,1314.0 1324.2,1318.6 1327.4,1322.8 1330.5,1326.9 1333.7,1330.6 1336.8,1334.2 1340.0,1337.5 1343.1,1340.6 1346.2,1343.4 1349.2,1346.0 1352.3,1348.5 1355.6,1350.9 1359.2,1353.5 1363.0,1356.1 1366.9,1358.5 1370.7,1360.7 1374.5,1362.6 1378.2,1364.3 1382.0,1365.8 1385.8,1367.1 1389.6,1368.3 1393.3,1369.3 1397.1,1370.2 1400.9,1370.9 1404.7,1371.5 1408.5,1372.0 1412.2,1372.4 1416.0,1372.7 1419.8,1372.9 1423.5,1372.9 1427.3,1372.9 1431.1,1372.7 1434.9,1372.4 1438.6,1372.0 1442.4,1371.5 1446.2,1370.9 1450.0,1370.1 1453.8,1369.2 1457.5,1368.3 1461.3,1367.2 1465.1,1366.0 1468.8,1364.7 1472.6,1363.3 1476.4,1361.7 1480.2,1359.8 1484.0,1357.8 1487.7,1355.6 1491.5,1353.0 1495.3,1350.0 1499.2,1346.7 1502.9,1343.2 1506.6,1339.7 1510.3,1336.0 1513.9,1332.2 1517.3,1328.5 1520.0,1325.6 1521.8,1323.7 1522.8,1322.6 1523.7,1321.5 1525.0,1319.8 1526.8,1317.2 1528.9,1314.3 1531.1,1311.0 1533.2,1307.6 1535.3,1304.1 1537.3,1300.5 1539.4,1296.6 1541.5,1292.6 1543.6,1288.3 1545.7,1283.8 1547.7,1279.2 1549.8,1274.3 1551.9,1269.2 1553.9,1263.9 1556.0,1258.4 1558.1,1252.9 1560.2,1247.3 1562.3,1241.7 1564.3,1235.9 1566.4,1229.9 1568.5,1223.8 1570.5,1217.6 1572.6,1211.1 1574.6,1204.2 1576.6,1196.7 1578.7,1188.9 1580.7,1180.8 1582.8,1172.8 1584.9,1164.9 1586.9,1156.9 1589.0,1148.8 1591.1,1140.5 1593.1,1132.3 1595.1,1124.1 1597.1,1115.4 1599.3,1105.9 1601.7,1094.7 1604.4,1082.2 1606.9,1070.1 1609.0,1060.3 1610.4,1053.5 1611.4,1048.8 1612.2,1044.8 1613.3,1040.0 1614.7,1034.0 1616.2,1027.7 1617.7,1021.2 1619.2,1014.9 1620.7,1008.6 1622.1,1002.4 1623.6,996.2 1625.0,989.9 1626.5,983.5 1627.9,977.0 1629.3,970.6 1630.8,964.1 1632.2,957.8 1633.7,951.5 1635.1,945.3 1636.6,938.9 1638.1,932.5 1639.5,925.9 1641.0,919.4 1642.5,913.0 1644.0,906.6 1645.4,900.4 1646.9,894.2 1648.3,888.1 1649.7,882.3 1651.2,876.5 1652.6,870.8 1654.1,864.9 1655.7,858.7 1657.3,852.3 1658.9,846.1 1660.3,840.4 1661.5,835.5 1662.4,831.1 1663.4,826.9 1664.6,822.5 1666.0,817.6 1667.6,812.6 1669.2,807.7 1670.8,803.3 1672.3,799.3 1673.8,795.6 1675.4,792.1 1676.9,788.9 1678.4,785.8 1680.0,782.9 1681.5,780.2 1683.1,777.8 1684.7,775.8 1686.3,774.1 1687.9,772.7 1689.3,771.5 1690.5,770.6 1691.7,770.0 1692.7,769.6 1693.8,769.2 1694.9,768.9 1696.0,768.6 1697.1,768.5 1698.2,768.5 1699.3,768.5 1700.4,768.6 1701.5,768.8 1702.6,769.2 1703.8,769.8 1705.0,770.5 1706.3,771.5 1707.7,772.7 1709.2,774.4 1710.7,776.3 1712.3,778.5 1713.9,780.7 1715.4,783.1 1717.0,785.5 1718.5,788.1 1720.0,790.9 1721.5,793.8 1723.1,796.9 1724.6,800.1 1726.2,803.5 1727.8,807.3 1729.3,811.3 1730.9,815.5 1732.4,819.8 1733.9,824.2 1735.5,828.8 1737.0,833.5 1738.5,838.3 1740.0,843.3 1741.6,848.4 1743.2,853.5 1744.7,858.7 1746.2,863.8 1747.8,868.9 1749.3,874.1 1750.8,879.4 1752.3,884.9 1753.9,890.6 1755.5,896.3 1757.0,902.0 1758.5,907.6 1760.1,913.2 1761.6,918.8 1763.1,924.3 1764.6,929.6 1766.2,934.8 1767.7,939.9 1769.3,945.1 1770.9,950.2 1772.4,955.3 1774.0,960.4 1775.5,965.5 1777.0,970.7 1778.6,975.8 1780.1,980.9 1781.6,986.0 1783.1,991.2 1784.7,996.4 1786.3,1001.6 1787.8,1006.5 1789.3,1011.3 1790.8,1016.0 1792.4,1020.5 1793.9,1025.0 1795.5,1029.4 1797.2,1033.9 1798.8,1038.1 1800.1,1041.6 1801.2,1044.4 1802.0,1046.7 1802.7,1048.4 1803.2,1049.7" fill="none" stroke="#10106e" stroke-width="2.1" stroke-linejoin="round"/>
<rect x="1262.8" y="7.3" width="567.4" height="2" fill="#333333"/>
<rect x="1262.8" y="7.3" width="2.1" height="1469.8" fill="#333333"/>
<rect x="1826.6" y="7.3" width="3.6" height="1469.8" fill="#1c1c1c"/>
<rect x="1262.8" y="78.8" width="567.4" height="3.3" fill="#1c1c1c"/>
<rect x="1262.8" y="1473.5" width="567.4" height="3.6" fill="#1c1c1c"/>
<rect x="1285.4" y="1476.6" width="3.8" height="8.6" fill="#1c1c1c"/>
<rect x="1388.7" y="1476.6" width="3.8" height="8.6" fill="#1c1c1c"/>
<rect x="1491.9" y="1476.6" width="3.8" height="8.6" fill="#1c1c1c"/>
<rect x="1595.6" y="1476.6" width="3.8" height="8.6" fill="#1c1c1c"/>
<rect x="1699.0" y="1476.6" width="3.8" height="8.6" fill="#1c1c1c"/>
<rect x="1800.9" y="1476.6" width="3.8" height="8.6" fill="#1c1c1c"/>
</g>
<g>
<rect x="1851.1" y="7.3" width="567.9" height="72.5" fill="#dddddd"/>
<rect x="1904.2" y="84.4" width="2.6" height="1387.9" fill="#ebebeb"/>
<rect x="2028.2" y="84.4" width="2.6" height="1387.9" fill="#ebebeb"/>
<rect x="2150.5" y="84.4" width="2.6" height="1387.9" fill="#ebebeb"/>
<rect x="2272.8" y="84.4" width="2.6" height="1387.9" fill="#ebebeb"/>
<rect x="2394.7" y="84.4" width="2.6" height="1387.9" fill="#ebebeb"/>
<rect x="1855.1" y="317.9" width="557.9" height="2.6" fill="#ebebeb"/>
<rect x="1855.1" y="680.7" width="557.9" height="2.6" fill="#ebebeb"/>
<rect x="1855.1" y="1045.7" width="557.9" height="2.6" fill="#ebebeb"/>
<rect x="1855.1" y="1410.4" width="557.9" height="2.6" fill="#ebebeb"/>
<polygon points="1877.7,1107.4 1878.5,1111.3 1879.7,1116.9 1881.2,1123.6 1882.7,1131.1 1884.4,1139.3 1886.2,1148.6 1888.2,1158.4 1890.3,1168.4 1892.6,1178.9 1895.1,1189.9 1897.7,1200.8 1900.3,1210.9 1902.8,1220.0 1905.3,1228.4 1907.9,1236.3 1910.4,1243.8 1912.9,1250.8 1915.5,1257.3 1918.0,1263.4 1920.5,1269.1 1922.9,1274.5 1925.3,1279.4 1927.8,1284.2 1930.5,1288.8 1933.4,1293.5 1936.5,1298.0 1939.7,1302.4 1943.1,1306.7 1946.6,1310.7 1950.3,1314.7 1954.2,1318.4 1958.2,1321.8 1962.4,1325.0 1966.8,1328.0 1971.3,1330.7 1975.8,1332.9 1980.2,1334.8 1984.6,1336.2 1989.1,1337.4 1993.5,1338.4 1997.9,1339.2 2002.3,1339.8 2006.7,1340.3 2011.1,1340.7 2015.5,1340.9 2019.9,1341.0 2024.3,1341.0 2028.7,1340.8 2033.1,1340.5 2037.5,1340.1 2041.9,1339.5 2046.3,1338.7 2050.7,1337.6 2055.2,1336.4 2059.6,1335.0 2063.9,1333.5 2068.1,1332.0 2072.2,1330.4 2076.2,1328.7 2080.0,1326.7 2083.7,1324.4 2087.3,1321.8 2090.7,1319.2 2093.9,1316.7 2096.9,1314.3 2099.7,1312.1 2102.4,1309.9 2105.0,1307.6 2107.5,1305.3 2110.0,1303.0 2112.4,1300.6 2114.8,1298.0 2117.2,1295.2 2119.7,1292.2 2122.1,1289.0 2124.5,1285.8 2127.0,1282.3 2129.6,1278.6 2132.1,1275.0 2134.3,1271.5 2136.3,1268.3 2138.0,1265.2 2139.6,1262.1 2141.2,1259.1 2142.7,1256.1 2144.1,1253.1 2145.4,1250.1 2146.8,1247.0 2148.1,1244.0 2149.5,1240.9 2150.8,1237.8 2152.3,1234.5 2153.9,1231.0 2155.7,1227.4 2157.5,1223.7 2159.3,1219.9 2161.1,1215.9 2162.9,1211.8 2164.7,1207.6 2166.3,1203.6 2167.8,1200.0 2169.1,1196.6 2170.5,1193.1 2171.8,1189.5 2173.2,1185.5 2174.6,1181.4 2176.0,1177.2 2177.4,1172.9 2178.8,1168.5 2180.2,1163.9 2181.6,1159.3 2183.0,1154.8 2184.4,1150.4 2185.8,1146.0 2187.1,1141.7 2188.5,1137.2 2189.9,1132.6 2191.4,1127.9 2192.8,1123.2 2194.1,1118.6 2195.1,1114.3 2195.9,1110.2 2196.8,1105.8 2198.0,1100.8 2199.6,1094.8 2201.4,1088.3 2203.4,1081.3 2205.5,1074.2 2207.7,1066.7 2210.0,1058.8 2212.2,1051.0 2214.3,1044.0 2216.0,1038.0 2217.5,1032.6 2219.0,1027.6 2220.6,1022.4 2222.4,1017.0 2224.3,1011.7 2226.3,1006.4 2228.2,1001.0 2230.1,995.5 2231.9,989.9 2233.8,984.3 2235.7,978.8 2237.6,973.1 2239.5,967.3 2241.4,961.7 2243.3,956.4 2245.2,951.5 2247.1,946.9 2248.9,942.6 2250.8,938.5 2252.9,934.5 2255.1,930.5 2257.0,927.1 2258.4,924.7 2265.9,915.9 2268.4,905.8 2276.0,898.3 2283.5,893.3 2296.1,888.2 2306.2,887.0 2315.0,881.9 2322.5,894.5 2328.8,885.7 2335.1,876.9 2338.9,883.2 2343.9,875.6 2350.2,880.7 2356.5,870.6 2364.1,861.8 2367.8,868.1 2372.9,856.8 2377.9,842.9 2384.2,830.3 2389.2,820.3 2393.0,811.5 2393.0,1364.8 2385.6,1362.2 2376.9,1355.6 2369.3,1353.5 2367.1,1342.5 2359.4,1337.1 2348.5,1330.5 2339.8,1327.2 2333.2,1317.4 2328.8,1325.1 2322.3,1330.5 2316.8,1316.3 2311.4,1317.4 2298.2,1320.7 2283.0,1328.3 2269.8,1331.6 2265.5,1337.1 2245.8,1344.7 2228.3,1354.5 2213.0,1356.7 2209.5,1357.8 2204.4,1359.3 2198.8,1361.0 2193.4,1362.8 2188.6,1364.6 2183.8,1366.5 2178.9,1368.5 2173.7,1370.3 2168.0,1372.0 2161.9,1373.6 2155.7,1375.2 2149.7,1376.8 2143.8,1378.5 2137.9,1380.2 2132.1,1381.9 2126.8,1383.4 2122.1,1384.8 2117.8,1386.1 2113.7,1387.3 2109.2,1388.4 2104.3,1389.5 2099.1,1390.5 2094.0,1391.5 2089.1,1392.3 2084.6,1393.1 2080.3,1393.7 2076.0,1394.3 2071.5,1394.8 2066.6,1395.4 2061.6,1395.9 2056.4,1396.4 2051.3,1396.8 2046.2,1397.1 2041.1,1397.2 2036.0,1397.3 2031.2,1397.3 2026.6,1397.1 2022.2,1396.9 2017.9,1396.5 2013.6,1396.1 2009.3,1395.6 2005.0,1395.0 2000.6,1394.3 1996.0,1393.6 1991.1,1392.7 1985.9,1391.8 1980.7,1390.8 1975.8,1389.7 1971.3,1388.6 1967.0,1387.4 1962.7,1386.1 1958.2,1384.8 1953.3,1383.3 1948.1,1381.7 1943.0,1380.0 1938.1,1378.4 1933.4,1376.7 1928.8,1375.1 1924.5,1373.5 1920.5,1372.1 1917.0,1370.8 1913.9,1369.7 1910.9,1368.8 1907.9,1368.1 1904.9,1367.8 1901.9,1367.7 1898.8,1367.8 1895.3,1368.0 1890.8,1368.3 1885.7,1368.8 1881.0,1369.3 1877.7,1369.6" fill="#add8e6" fill-opacity="0.45" stroke="none"/>
<polyline points="1877.7,1107.4 1878.5,1111.3 1879.7,1116.9 1881.2,1123.6 1882.7,1131.1 1884.4,1139.3 1886.2,1148.6 1888.2,1158.4 1890.3,1168.4 1892.6,1178.9 1895.1,1189.9 1897.7,1200.8 1900.3,1210.9 1902.8,1220.0 1905.3,1228.4 1907.9,1236.3 1910.4,1243.8 1912.9,1250.8 1915.5,1257.3 1918.0,1263.4 1920.5,1269.1 1922.9,1274.5 1925.3,1279.4 1927.8,1284.2 1930.5,1288.8 1933.4,1293.5 1936.5,1298.0 1939.7,1302.4 1943.1,1306.7 1946.6,1310.7 1950.3,1314.7 1954.2,1318.4 1958.2,1321.8 1962.4,1325.0 1966.8,1328.0 1971.3,1330.7 1975.8,1332.9 1980.2,1334.8 1984.6,1336.2 1989.1,1337.4 1993.5,1338.4 1997.9,1339.2 2002.3,1339.8 2006.7,1340.3 2011.1,1340.7 2015.5,1340.9 2019.9,1341.0 2024.3,1341.0 2028.7,1340.8 2033.1,1340.5 2037.5,1340.1 2041.9,1339.5 2046.3,1338.7 2050.7,1337.6 2055.2,1336.4 2059.6,1335.0 2063.9,1333.5 2068.1,1332.0 2072.2,1330.4 2076.2,1328.7 2080.0,1326.7 2083.7,1324.4 2087.3,1321.8 2090.7,1319.2 2093.9,1316.7 2096.9,1314.3 2099.7,1312.1 2102.4,1309.9 2105.0,1307.6 2107.5,1305.3 2110.0,1303.0 2112.4,1300.6 2114.8,1298.0 2117.2,1295.2 2119.7,1292.2 2122.1,1289.0 2124.5,1285.8 2127.0,1282.3 2129.6,1278.6 2132.1,1275.0 2134.3,1271.5 2136.3,1268.3 2138.0,1265.2 2139.6,1262.1 2141.2,1259.1 2142.7,1256.1 2144.1,1253.1 2145.4,1250.1 2146.8,1247.0 2148.1,1244.0 2149.5,1240.9 2150.8,1237.8 2152.3,1234.5 2153.9,1231.0 2155.7,1227.4 2157.5,1223.7 2159.3,1219.9 2161.1,1215.9 2162.9,1211.8 2164.7,1207.6 2166.3,1203.6 2167.8,1200.0 2169.1,1196.6 2170.5,1193.1 2171.8,1189.5 2173.2,1185.5 2174.6,1181.4 2176.0,1177.2 2177.4,1172.9 2178.8,1168.5 2180.2,1163.9 2181.6,1159.3 2183.0,1154.8 2184.4,1150.4 2185.8,1146.0 2187.1,1141.7 2188.5,1137.2 2189.9,1132.6 2191.4,1127.9 2192.8,1123.2 2194.1,1118.6 2195.1,1114.3 2195.9,1110.2 2196.8,1105.8 2198.0,1100.8 2199.6,1094.8 2201.4,1088.3 2203.4,1081.3 2205.5,1074.2 2207.7,1066.7 2210.0,1058.8 2212.2,1051.0 2214.3,1044.0 2216.0,1038.0 2217.5,1032.6 2219.0,1027.6 2220.6,1022.4 2222.4,1017.0 2224.3,1011.7 2226.3,1006.4 2228.2,1001.0 2230.1,995.5 2231.9,989.9 2233.8,984.3 2235.7,978.8 2237.6,973.1 2239.5,967.3 2241.4,961.7 2243.3,956.4 2245.2,951.5 2247.1,946.9 2248.9,942.6 2250.8,938.5 2252.9,934.5 2255.1,930.5 2257.0,927.1 2258.4,924.7 2265.9,915.9 2268.4,905.8 2276.0,898.3 2283.5,893.3 2296.1,888.2 2306.2,887.0 2315.0,881.9 2322.5,894.5 2328.8,885.7 2335.1,876.9 2338.9,883.2 2343.9,875.6 2350.2,880.7 2356.5,870.6 2364.1,861.8 2367.8,868.1 2372.9,856.8 2377.9,842.9 2384.2,830.3 2389.2,820.3 2393.0,811.5" fill="none" stroke="#a9d5e5" stroke-width="1.6" stroke-linejoin="round"/>
<polyline points="1877.7,1369.6 1881.0,1369.3 1885.7,1368.8 1890.8,1368.3 1895.3,1368.0 1898.8,1367.8 1901.9,1367.7 1904.9,1367.8 1907.9,1368.1 1910.9,1368.8 1913.9,1369.7 1917.0,1370.8 1920.5,1372.1 1924.5,1373.5 1928.8,1375.1 1933.4,1376.7 1938.1,1378.4 1943.0,1380.0 1948.1,1381.7 1953.3,1383.3 1958.2,1384.8 1962.7,1386.1 1967.0,1387.4 1971.3,1388.6 1975.8,1389.7 1980.7,1390.8 1985.9,1391.8 1991.1,1392.7 1996.0,1393.6 2000.6,1394.3 2005.0,1395.0 2009.3,1395.6 2013.6,1396.1 2017.9,1396.5 2022.2,1396.9 2026.6,1397.1 2031.2,1397.3 2036.0,1397.3 2041.1,1397.2 2046.2,1397.1 2051.3,1396.8 2056.4,1396.4 2061.6,1395.9 2066.6,1395.4 2071.5,1394.8 2076.0,1394.3 2080.3,1393.7 2084.6,1393.1 2089.1,1392.3 2094.0,1391.5 2099.1,1390.5 2104.3,1389.5 2109.2,1388.4 2113.7,1387.3 2117.8,1386.1 2122.1,1384.8 2126.8,1383.4 2132.1,1381.9 2137.9,1380.2 2143.8,1378.5 2149.7,1376.8 2155.7,1375.2 2161.9,1373.6 2168.0,1372.0 2173.7,1370.3 2178.9,1368.5 2183.8,1366.5 2188.6,1364.6 2193.4,1362.8 2198.8,1361.0 2204.4,1359.3 2209.5,1357.8 2213.0,1356.7 2228.3,1354.5 2245.8,1344.7 2265.5,1337.1 2269.8,1331.6 2283.0,1328.3 2298.2,1320.7 2311.4,1317.4 2316.8,1316.3 2322.3,1330.5 2328.8,1325.1 2333.2,1317.4 2339.8,1327.2 2348.5,1330.5 2359.4,1337.1 2367.1,1342.5 2369.3,1353.5 2376.9,1355.6 2385.6,1362.2 2393.0,1364.8" fill="none" stroke="#a9d5e5" stroke-width="1.6" stroke-linejoin="round"/>
<polyline points="1877.7,1256.4 1879.5,1260.0 1882.0,1265.2 1884.9,1271.0 1887.8,1276.6 1890.8,1281.9 1893.9,1287.4 1897.1,1292.7 1900.3,1297.7 1903.4,1302.3 1906.6,1306.5 1909.7,1310.6 1912.9,1314.4 1916.1,1318.1 1919.2,1321.6 1922.4,1324.9 1925.5,1328.1 1928.7,1331.1 1931.8,1334.0 1935.0,1336.7 1938.1,1339.3 1941.2,1341.7 1944.2,1343.9 1947.4,1346.1 1950.7,1348.2 1954.3,1350.5 1958.1,1352.8 1962.0,1355.0 1965.8,1357.1 1969.6,1359.0 1973.3,1360.8 1977.1,1362.5 1980.9,1364.0 1984.7,1365.3 1988.6,1366.5 1992.4,1367.5 1996.0,1368.4 1998.6,1369.2 2000.4,1370.0 2003.2,1370.6 2008.6,1371.0 2018.3,1371.2 2031.1,1371.3 2043.9,1371.2 2053.9,1370.8 2059.8,1370.2 2063.3,1369.3 2065.9,1368.3 2069.0,1367.2 2072.8,1366.0 2076.6,1364.8 2080.3,1363.5 2084.1,1362.1 2087.9,1360.7 2091.6,1359.1 2095.4,1357.6 2099.2,1355.9 2103.0,1354.1 2106.9,1352.1 2110.7,1350.1 2114.3,1348.1 2117.7,1346.0 2120.9,1343.8 2123.9,1341.6 2126.8,1339.3 2129.4,1337.2 2131.7,1335.2 2134.1,1332.9 2137.0,1330.0 2140.5,1326.4 2144.4,1322.3 2148.4,1317.9 2152.3,1313.5 2155.9,1309.4 2159.4,1305.2 2162.8,1301.0 2166.3,1296.6 2169.8,1291.9 2173.4,1286.9 2176.9,1282.0 2180.2,1277.3 2183.2,1272.9 2185.9,1268.8 2188.6,1264.7 2191.3,1260.4 2194.1,1256.0 2196.8,1251.5 2199.6,1246.9 2202.4,1242.4 2205.2,1237.9 2208.0,1233.3 2210.8,1228.8 2213.6,1224.4 2216.5,1220.0 2219.5,1215.5 2222.3,1211.2 2224.7,1207.5 2226.6,1204.6 2228.1,1202.3 2229.5,1200.1 2231.0,1197.7 2232.8,1194.9 2234.6,1191.9 2236.5,1188.9 2238.3,1186.0 2240.1,1183.3 2242.0,1180.7 2243.8,1178.2 2245.6,1175.8 2247.4,1173.6 2249.2,1171.5 2251.1,1169.5 2252.9,1167.5 2254.7,1165.5 2256.6,1163.6 2258.4,1161.6 2260.2,1159.8 2262.0,1158.0 2263.8,1156.3 2265.7,1154.6 2267.5,1153.0 2269.3,1151.5 2271.2,1150.1 2273.0,1148.7 2274.8,1147.4 2276.6,1146.1 2278.5,1145.0 2280.3,1143.9 2282.1,1142.8 2283.9,1141.9 2285.8,1140.9 2287.6,1140.1 2289.4,1139.3 2291.1,1138.6 2292.8,1138.0 2294.6,1137.5 2296.7,1137.0 2299.2,1136.4 2301.9,1135.8 2304.9,1135.3 2308.0,1134.9 2311.3,1134.6 2314.9,1134.3 2318.5,1134.2 2322.0,1134.1 2325.4,1134.1 2328.7,1134.1 2332.0,1134.3 2335.4,1134.5 2339.0,1134.8 2342.6,1135.3 2346.3,1135.8 2350.0,1136.3 2353.7,1136.8 2357.4,1137.4 2361.0,1138.0 2364.6,1138.5 2368.0,1138.9 2371.3,1139.2 2374.6,1139.5 2378.0,1139.8 2382.0,1139.9 2386.3,1140.0 2390.3,1140.0 2393.0,1140.0" fill="none" stroke="#10106e" stroke-width="2.1" stroke-linejoin="round"/>
<rect x="1851.1" y="7.3" width="567.9" height="2" fill="#333333"/>
<rect x="1851.1" y="7.3" width="2.1" height="1469.8" fill="#333333"/>
<rect x="2415.4" y="7.3" width="3.6" height="1469.8" fill="#1c1c1c"/>
<rect x="1851.1" y="78.8" width="567.9" height="3.3" fill="#1c1c1c"/>
<rect x="1851.1" y="1473.5" width="567.9" height="3.6" fill="#1c1c1c"/>
<rect x="1903.6" y="1476.6" width="3.8" height="8.6" fill="#1c1c1c"/>
<rect x="2027.6" y="1476.6" width="3.8" height="8.6" fill="#1c1c1c"/>
<rect x="2149.9" y="1476.6" width="3.8" height="8.6" fill="#1c1c1c"/>
<rect x="2272.2" y="1476.6" width="3.8" height="8.6" fill="#1c1c1c"/>
<rect x="2394.1" y="1476.6" width="3.8" height="8.6" fill="#1c1c1c"/>
</g>
<rect x="2419.0" y="80.5" width="72.7" height="1396.6" fill="#dddddd"/>
<rect x="2419.0" y="80.5" width="72.7" height="2" fill="#333333"/>
<rect x="2488.7" y="80.5" width="3" height="1396.6" fill="#1c1c1c"/>
<rect x="2415.4" y="80.5" width="76.3" height="3.6" transform="translate(0,1393.0)" fill="#1c1c1c"/>
<rect x="74" y="317.4" width="10.5" height="3.6" fill="#1c1c1c"/>
<rect x="74" y="680.2" width="10.5" height="3.6" fill="#1c1c1c"/>
<rect x="74" y="1045.2" width="10.5" height="3.6" fill="#1c1c1c"/>
<rect x="74" y="1409.9" width="10.5" height="3.6" fill="#1c1c1c"/>
<text y="63.6" font-size="44"><tspan x="212.58" textLength="232.97" lengthAdjust="spacingAndGlyphs">sd-BottomT</tspan> <tspan x="456.87" textLength="71.79" lengthAdjust="spacingAndGlyphs">(°C)</tspan></text>
<text y="63.6" font-size="44"><tspan x="725.46" textLength="309.2" lengthAdjust="spacingAndGlyphs">m-CHL-surface</tspan> <tspan x="1046.74" textLength="161.32" lengthAdjust="spacingAndGlyphs">(mg/m³)</tspan></text>
<text y="63.5" font-size="44"><tspan x="1302.24" textLength="330.64" lengthAdjust="spacingAndGlyphs">sd-EKE-200-600</tspan> <tspan x="1646.19" textLength="132.47" lengthAdjust="spacingAndGlyphs">(m²/s²)</tspan></text>
<text y="63.0" font-size="44"><tspan x="1929.24" textLength="295.84" lengthAdjust="spacingAndGlyphs">m-GrT-surface</tspan> <tspan x="2237.29" textLength="72.18" lengthAdjust="spacingAndGlyphs">(°C)</tspan></text>
<text y="0" font-size="44" transform="translate(2437.2 0) rotate(90)"><tspan x="574.14" textLength="156.36" lengthAdjust="spacingAndGlyphs">Relative</tspan> <tspan x="739.55" textLength="145.09" lengthAdjust="spacingAndGlyphs">density</tspan></text>
<text x="8.99" y="330.5" font-size="28.8" textLength="55.64" lengthAdjust="spacingAndGlyphs">0.03</text>
<text x="10.67" y="693.4" font-size="28.8" textLength="55.29" lengthAdjust="spacingAndGlyphs">0.02</text>
<text x="10.88" y="1057.8" font-size="28.8" textLength="55.12" lengthAdjust="spacingAndGlyphs">0.01</text>
<text x="11.68" y="1423.5" font-size="28.8" textLength="55.33" lengthAdjust="spacingAndGlyphs">0.00</text>
<text x="238.01" y="1513.4" font-size="25" textLength="35.09" lengthAdjust="spacingAndGlyphs">0.1</text>
<text x="452.93" y="1513.4" font-size="25" textLength="35.84" lengthAdjust="spacingAndGlyphs">0.2</text>
<text x="773.98" y="1513.4" font-size="25" textLength="64.18" lengthAdjust="spacingAndGlyphs">0.050</text>
<text x="911.55" y="1513.4" font-size="25" textLength="62.22" lengthAdjust="spacingAndGlyphs">0.075</text>
<text x="1055.1" y="1513.4" font-size="25" textLength="63.29" lengthAdjust="spacingAndGlyphs">0.100</text>
<text x="1173.6" y="1513.4" font-size="25" textLength="62.67" lengthAdjust="spacingAndGlyphs">0.125</text>
<text x="1281.69" y="1515.8" font-size="25" textLength="63.82" lengthAdjust="spacingAndGlyphs">0.000</text>
<text x="1375.65" y="1515.8" font-size="25" textLength="62.94" lengthAdjust="spacingAndGlyphs">0.001</text>
<text x="1469.28" y="1515.8" font-size="25" textLength="63.21" lengthAdjust="spacingAndGlyphs">0.002</text>
<text x="1575.07" y="1515.8" font-size="25" textLength="63.05" lengthAdjust="spacingAndGlyphs">0.003</text>
<text x="1675.63" y="1515.8" font-size="25" textLength="63.22" lengthAdjust="spacingAndGlyphs">0.004</text>
<text x="1775.59" y="1515.8" font-size="25" textLength="62.84" lengthAdjust="spacingAndGlyphs">0.005</text>
<text x="1869.29" y="1514.3" font-size="25" textLength="63.15" lengthAdjust="spacingAndGlyphs">0.025</text>
<text x="2006.84" y="1514.3" font-size="25" textLength="63.23" lengthAdjust="spacingAndGlyphs">0.050</text>
<text x="2137.5" y="1514.3" font-size="25" textLength="63.01" lengthAdjust="spacingAndGlyphs">0.075</text>
<text x="2237.66" y="1514.3" font-size="25" textLength="63.45" lengthAdjust="spacingAndGlyphs">0.100</text>
<text x="2362.31" y="1514.3" font-size="25" textLength="63.17" lengthAdjust="spacingAndGlyphs">0.125</text>
</svg>
</body></html>
